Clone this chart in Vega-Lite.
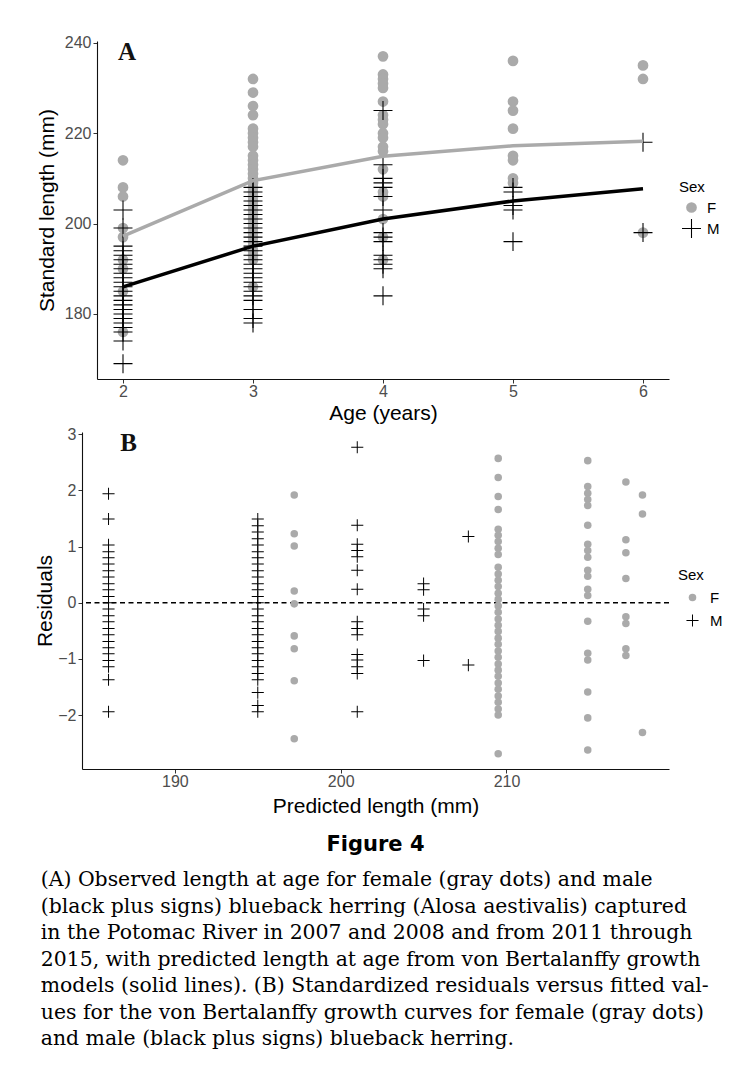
{
  "$schema": "https://vega.github.io/schema/vega-lite/v6.json",
  "background": "white",
  "padding": {"left": 34, "top": 34, "right": 0, "bottom": 0},
  "config": {
    "font": "Liberation Sans",
    "view": {"stroke": null},
    "axis": {
      "grid": false,
      "domainColor": "#111111",
      "domainWidth": 1.1,
      "tickColor": "#333333",
      "tickSize": 4,
      "tickWidth": 1,
      "labelColor": "#4d4d4d",
      "labelFontSize": 16,
      "labelFont": "Liberation Sans",
      "titleFont": "Liberation Sans",
      "titleFontSize": 21,
      "titleFontWeight": "normal",
      "titleColor": "#000000"
    },
    "legend": {
      "titleFont": "Liberation Sans",
      "labelFont": "Liberation Sans",
      "titleFontSize": 15,
      "titleFontWeight": "normal",
      "titleColor": "#000000",
      "labelFontSize": 15,
      "labelColor": "#000000"
    }
  },
  "datasets": {
    "fish": [
      {"s":"F","a":2,"l":214,"p":197.2,"r":1.92},{"s":"F","a":2,"l":208,"p":197.2,"r":1.23},{"s":"F","a":2,"l":206,"p":197.2,"r":1.01},{"s":"F","a":2,"l":199,"p":197.2,"r":0.21},{"s":"F","a":2,"l":197,"p":197.2,"r":-0.02},{"s":"F","a":2,"l":192,"p":197.2,"r":-0.59},{"s":"F","a":2,"l":190,"p":197.2,"r":-0.82},{"s":"F","a":2,"l":185,"p":197.2,"r":-1.39},{"s":"F","a":2,"l":176,"p":197.2,"r":-2.42},
      {"s":"F","a":3,"l":232,"p":209.5,"r":2.57},{"s":"F","a":3,"l":229,"p":209.5,"r":2.23},{"s":"F","a":3,"l":226,"p":209.5,"r":1.89},{"s":"F","a":3,"l":224,"p":209.5,"r":1.66},{"s":"F","a":3,"l":221,"p":209.5,"r":1.31},{"s":"F","a":3,"l":220,"p":209.5,"r":1.2},{"s":"F","a":3,"l":219,"p":209.5,"r":1.09},{"s":"F","a":3,"l":218,"p":209.5,"r":0.97},{"s":"F","a":3,"l":217,"p":209.5,"r":0.86},{"s":"F","a":3,"l":215,"p":209.5,"r":0.63},{"s":"F","a":3,"l":214,"p":209.5,"r":0.51},{"s":"F","a":3,"l":213,"p":209.5,"r":0.4},{"s":"F","a":3,"l":212,"p":209.5,"r":0.29},{"s":"F","a":3,"l":211,"p":209.5,"r":0.17},{"s":"F","a":3,"l":210,"p":209.5,"r":0.06},{"s":"F","a":3,"l":209,"p":209.5,"r":-0.06},{"s":"F","a":3,"l":208,"p":209.5,"r":-0.17},{"s":"F","a":3,"l":207,"p":209.5,"r":-0.29},{"s":"F","a":3,"l":206,"p":209.5,"r":-0.4},{"s":"F","a":3,"l":205,"p":209.5,"r":-0.51},{"s":"F","a":3,"l":204,"p":209.5,"r":-0.63},{"s":"F","a":3,"l":203,"p":209.5,"r":-0.74},{"s":"F","a":3,"l":202,"p":209.5,"r":-0.86},{"s":"F","a":3,"l":201,"p":209.5,"r":-0.97},{"s":"F","a":3,"l":200,"p":209.5,"r":-1.09},{"s":"F","a":3,"l":199,"p":209.5,"r":-1.2},{"s":"F","a":3,"l":198,"p":209.5,"r":-1.31},{"s":"F","a":3,"l":197,"p":209.5,"r":-1.43},{"s":"F","a":3,"l":196,"p":209.5,"r":-1.54},{"s":"F","a":3,"l":195,"p":209.5,"r":-1.66},{"s":"F","a":3,"l":194,"p":209.5,"r":-1.77},{"s":"F","a":3,"l":193,"p":209.5,"r":-1.89},{"s":"F","a":3,"l":192,"p":209.5,"r":-2.0},{"s":"F","a":3,"l":186,"p":209.5,"r":-2.69},
      {"s":"F","a":4,"l":237,"p":214.9,"r":2.53},{"s":"F","a":4,"l":233,"p":214.9,"r":2.07},{"s":"F","a":4,"l":232,"p":214.9,"r":1.95},{"s":"F","a":4,"l":231,"p":214.9,"r":1.84},{"s":"F","a":4,"l":230,"p":214.9,"r":1.73},{"s":"F","a":4,"l":227,"p":214.9,"r":1.38},{"s":"F","a":4,"l":224,"p":214.9,"r":1.04},{"s":"F","a":4,"l":223,"p":214.9,"r":0.93},{"s":"F","a":4,"l":222,"p":214.9,"r":0.81},{"s":"F","a":4,"l":220,"p":214.9,"r":0.58},{"s":"F","a":4,"l":219,"p":214.9,"r":0.47},{"s":"F","a":4,"l":217,"p":214.9,"r":0.24},{"s":"F","a":4,"l":216,"p":214.9,"r":0.13},{"s":"F","a":4,"l":212,"p":214.9,"r":-0.33},{"s":"F","a":4,"l":207,"p":214.9,"r":-0.9},{"s":"F","a":4,"l":206,"p":214.9,"r":-1.02},{"s":"F","a":4,"l":201,"p":214.9,"r":-1.59},{"s":"F","a":4,"l":197,"p":214.9,"r":-2.05},{"s":"F","a":4,"l":192,"p":214.9,"r":-2.62},
      {"s":"F","a":5,"l":236,"p":217.2,"r":2.15},{"s":"F","a":5,"l":227,"p":217.2,"r":1.12},{"s":"F","a":5,"l":225,"p":217.2,"r":0.89},{"s":"F","a":5,"l":221,"p":217.2,"r":0.43},{"s":"F","a":5,"l":215,"p":217.2,"r":-0.25},{"s":"F","a":5,"l":214,"p":217.2,"r":-0.37},{"s":"F","a":5,"l":210,"p":217.2,"r":-0.82},{"s":"F","a":5,"l":209,"p":217.2,"r":-0.94},
      {"s":"F","a":6,"l":235,"p":218.2,"r":1.92},{"s":"F","a":6,"l":232,"p":218.2,"r":1.58},{"s":"F","a":6,"l":198,"p":218.2,"r":-2.31},
      {"s":"M","a":2,"l":203,"p":186.0,"r":1.94},{"s":"M","a":2,"l":199,"p":186.0,"r":1.49},{"s":"M","a":2,"l":195,"p":186.0,"r":1.03},{"s":"M","a":2,"l":194,"p":186.0,"r":0.91},{"s":"M","a":2,"l":193,"p":186.0,"r":0.8},{"s":"M","a":2,"l":192,"p":186.0,"r":0.69},{"s":"M","a":2,"l":191,"p":186.0,"r":0.57},{"s":"M","a":2,"l":190,"p":186.0,"r":0.46},{"s":"M","a":2,"l":189,"p":186.0,"r":0.34},{"s":"M","a":2,"l":188,"p":186.0,"r":0.23},{"s":"M","a":2,"l":187,"p":186.0,"r":0.11},{"s":"M","a":2,"l":186,"p":186.0,"r":0.0},{"s":"M","a":2,"l":185,"p":186.0,"r":-0.11},{"s":"M","a":2,"l":184,"p":186.0,"r":-0.23},{"s":"M","a":2,"l":183,"p":186.0,"r":-0.34},{"s":"M","a":2,"l":182,"p":186.0,"r":-0.46},{"s":"M","a":2,"l":181,"p":186.0,"r":-0.57},{"s":"M","a":2,"l":180,"p":186.0,"r":-0.69},{"s":"M","a":2,"l":179,"p":186.0,"r":-0.8},{"s":"M","a":2,"l":178,"p":186.0,"r":-0.91},{"s":"M","a":2,"l":177,"p":186.0,"r":-1.03},{"s":"M","a":2,"l":176,"p":186.0,"r":-1.14},{"s":"M","a":2,"l":174,"p":186.0,"r":-1.37},{"s":"M","a":2,"l":169,"p":186.0,"r":-1.94},
      {"s":"M","a":3,"l":208,"p":195.0,"r":1.49},{"s":"M","a":3,"l":207,"p":195.0,"r":1.37},{"s":"M","a":3,"l":206,"p":195.0,"r":1.26},{"s":"M","a":3,"l":205,"p":195.0,"r":1.14},{"s":"M","a":3,"l":204,"p":195.0,"r":1.03},{"s":"M","a":3,"l":203,"p":195.0,"r":0.91},{"s":"M","a":3,"l":202,"p":195.0,"r":0.8},{"s":"M","a":3,"l":201,"p":195.0,"r":0.69},{"s":"M","a":3,"l":200,"p":195.0,"r":0.57},{"s":"M","a":3,"l":199,"p":195.0,"r":0.46},{"s":"M","a":3,"l":198,"p":195.0,"r":0.34},{"s":"M","a":3,"l":197,"p":195.0,"r":0.23},{"s":"M","a":3,"l":196,"p":195.0,"r":0.11},{"s":"M","a":3,"l":195,"p":195.0,"r":0.0},{"s":"M","a":3,"l":194,"p":195.0,"r":-0.11},{"s":"M","a":3,"l":193,"p":195.0,"r":-0.23},{"s":"M","a":3,"l":192,"p":195.0,"r":-0.34},{"s":"M","a":3,"l":191,"p":195.0,"r":-0.46},{"s":"M","a":3,"l":190,"p":195.0,"r":-0.57},{"s":"M","a":3,"l":189,"p":195.0,"r":-0.69},{"s":"M","a":3,"l":188,"p":195.0,"r":-0.8},{"s":"M","a":3,"l":187,"p":195.0,"r":-0.91},{"s":"M","a":3,"l":186,"p":195.0,"r":-1.03},{"s":"M","a":3,"l":185,"p":195.0,"r":-1.14},{"s":"M","a":3,"l":184,"p":195.0,"r":-1.26},{"s":"M","a":3,"l":183,"p":195.0,"r":-1.37},{"s":"M","a":3,"l":181,"p":195.0,"r":-1.6},{"s":"M","a":3,"l":179,"p":195.0,"r":-1.83},{"s":"M","a":3,"l":178,"p":195.0,"r":-1.94},
      {"s":"M","a":4,"l":225,"p":201.0,"r":2.77},{"s":"M","a":4,"l":213,"p":201.0,"r":1.38},{"s":"M","a":4,"l":210,"p":201.0,"r":1.04},{"s":"M","a":4,"l":209,"p":201.0,"r":0.93},{"s":"M","a":4,"l":208,"p":201.0,"r":0.82},{"s":"M","a":4,"l":206,"p":201.0,"r":0.58},{"s":"M","a":4,"l":203,"p":201.0,"r":0.24},{"s":"M","a":4,"l":198,"p":201.0,"r":-0.34},{"s":"M","a":4,"l":197,"p":201.0,"r":-0.46},{"s":"M","a":4,"l":196,"p":201.0,"r":-0.57},{"s":"M","a":4,"l":193,"p":201.0,"r":-0.92},{"s":"M","a":4,"l":192,"p":201.0,"r":-1.02},{"s":"M","a":4,"l":191,"p":201.0,"r":-1.14},{"s":"M","a":4,"l":190,"p":201.0,"r":-1.26},{"s":"M","a":4,"l":184,"p":201.0,"r":-1.94},
      {"s":"M","a":5,"l":208,"p":205.0,"r":0.34},{"s":"M","a":5,"l":207,"p":205.0,"r":0.23},{"s":"M","a":5,"l":204,"p":205.0,"r":-0.11},{"s":"M","a":5,"l":203,"p":205.0,"r":-0.23},{"s":"M","a":5,"l":196,"p":205.0,"r":-1.03},
      {"s":"M","a":6,"l":218,"p":207.7,"r":1.18},{"s":"M","a":6,"l":198,"p":207.7,"r":-1.11}
    ],
    "fit": [
      {"s":"F","a":2,"l":197.2},{"s":"F","a":3,"l":209.5},{"s":"F","a":4,"l":214.9},{"s":"F","a":5,"l":217.2},{"s":"F","a":6,"l":218.2},
      {"s":"M","a":2,"l":186.0},{"s":"M","a":3,"l":195.0},{"s":"M","a":4,"l":201.0},{"s":"M","a":5,"l":205.0},{"s":"M","a":6,"l":207.7}
    ]
  },
  "title": {
    "text": [
      "(A) Observed length at age for female (gray dots) and male",
      "(black plus signs) blueback herring (Alosa aestivalis) captured",
      "in the Potomac River in 2007 and 2008 and from 2011 through",
      "2015, with predicted length at age from von Bertalanffy growth",
      "models (solid lines). (B) Standardized residuals versus fitted val-",
      "ues for the von Bertalanffy growth curves for female (gray dots)",
      "and male (black plus signs) blueback herring."
    ],
    "orient": "bottom",
    "anchor": "start",
    "frame": "bounds",
    "font": "DejaVu Serif",
    "fontSize": 20.4,
    "fontWeight": "normal",
    "color": "#000000",
    "lineHeight": 26.5,
    "offset": 15,
    "dx": 6
  },
  "spacing": 3,
  "resolve": {
    "scale": {"x": "independent", "y": "independent", "color": "independent", "shape": "independent", "stroke": "independent"},
    "legend": {"color": "independent", "shape": "independent"}
  },
  "vconcat": [
    {
      "width": 587,
      "height": 338,
      "layer": [
        {
          "data": {"name": "fish"},
          "mark": {"type": "point", "filled": true, "opacity": 1, "size": 115},
          "encoding": {
            "x": {"field": "a", "type": "quantitative", "scale": {"domain": [1.8, 6.2], "range": [15, 587], "nice": false, "zero": false},
                  "axis": {"values": [2, 3, 4, 5, 6], "title": "Age (years)", "titlePadding": 3, "labelPadding": 0, "format": "d"}},
            "y": {"field": "l", "type": "quantitative", "scale": {"domain": [165.6, 240.4], "nice": false, "zero": false},
                  "axis": {"values": [180, 200, 220, 240], "title": "Standard length (mm)", "titlePadding": 7, "labelPadding": 2, "offset": -15}},
            "color": {"field": "s", "type": "nominal", "scale": {"domain": ["F", "M"], "range": ["#aaaaaa", "#000000"]},
                      "legend": {"title": "Sex", "orient": "none", "legendX": 597, "legendY": 139, "symbolSize": 115, "symbolOffset": 5, "labelOffset": 8, "rowPadding": 3, "titlePadding": 5, "symbolStrokeWidth": 0,
                                 "encode": {"symbols": {"update": {"shape": {"signal": "datum.value === 'M' ? 'M-1.77,-0.33H1.77V0.33H-1.77ZM-0.1,-1.9H0.1V1.9H-0.1Z' : 'circle'"}}}}}},
            "shape": {"field": "s", "type": "nominal", "scale": {"domain": ["F", "M"], "range": ["circle", "M-1.77,-0.1H-0.1V-1.77H0.1V-0.1H1.77V0.1H0.1V1.77H-0.1V0.1H-1.77Z"]},
                      "legend": {"title": "Sex", "orient": "none", "legendX": 597, "legendY": 139, "symbolSize": 115, "symbolOffset": 5, "labelOffset": 8, "rowPadding": 3, "titlePadding": 5, "symbolStrokeWidth": 0,
                                 "encode": {"symbols": {"update": {"shape": {"signal": "datum.value === 'M' ? 'M-1.77,-0.33H1.77V0.33H-1.77ZM-0.1,-1.9H0.1V1.9H-0.1Z' : 'circle'"}}}}}}
          }
        },
        {
          "data": {"name": "fit"},
          "mark": {"type": "line", "strokeWidth": 3.5},
          "encoding": {
            "x": {"field": "a", "type": "quantitative"},
            "y": {"field": "l", "type": "quantitative"},
            "stroke": {"field": "s", "type": "nominal", "scale": {"domain": ["F", "M"], "range": ["#aaaaaa", "#000000"]}, "legend": null}
          }
        },
        {
          "data": {"values": [{"lab": "A"}]},
          "mark": {"type": "text", "font": "Liberation Serif", "fontWeight": "bold", "fontSize": 25, "align": "left", "baseline": "alphabetic", "color": "#111111"},
          "encoding": {
            "x": {"datum": 1.962},
            "y": {"datum": 236.2},
            "text": {"field": "lab"}
          }
        }
      ]
    },
    {
      "width": 587,
      "height": 337,
      "title": {"text": "Figure 4", "orient": "bottom", "anchor": "middle", "frame": "group", "font": "DejaVu Sans", "fontWeight": "bold", "fontSize": 21, "color": "#000000", "offset": 18},
      "layer": [
        {
          "data": {"values": [{"z": 0}]},
          "mark": {"type": "rule", "strokeDash": [5, 3.5], "strokeWidth": 1.3, "color": "#000000"},
          "encoding": {
            "y": {"field": "z", "type": "quantitative"}
          }
        },
        {
          "data": {"name": "fish"},
          "mark": {"type": "point", "filled": true, "opacity": 1, "size": 57},
          "encoding": {
            "x": {"field": "p", "type": "quantitative", "scale": {"domain": [184.4, 219.8], "nice": false, "zero": false},
                  "axis": {"values": [190, 200, 210], "title": "Predicted length (mm)", "titlePadding": 6, "labelPadding": 0, "format": "d"}},
            "y": {"field": "r", "type": "quantitative", "scale": {"domain": [-2.96, 3.04], "nice": false, "zero": false},
                  "axis": {"values": [-2, -1, 0, 1, 2, 3], "title": "Residuals", "titlePadding": 2, "labelPadding": 2, "format": "d"}},
            "color": {"field": "s", "type": "nominal", "scale": {"domain": ["F", "M"], "range": ["#aaaaaa", "#000000"]},
                      "legend": {"title": "Sex", "orient": "none", "legendX": 596, "legendY": 136, "symbolSize": 57, "symbolOffset": 7, "labelOffset": 10, "rowPadding": 7, "titlePadding": 7, "symbolStrokeWidth": 0}},
            "shape": {"field": "s", "type": "nominal", "scale": {"domain": ["F", "M"], "range": ["circle", "M-1.6,-0.13H-0.13V-1.6H0.13V-0.13H1.6V0.13H0.13V1.6H-0.13V0.13H-1.6Z"]},
                      "legend": {"title": "Sex", "orient": "none", "legendX": 596, "legendY": 136, "symbolSize": 57, "symbolOffset": 7, "labelOffset": 10, "rowPadding": 7, "titlePadding": 7, "symbolStrokeWidth": 0}}
          }
        },
        {
          "data": {"values": [{"lab": "B"}]},
          "mark": {"type": "text", "font": "Liberation Serif", "fontWeight": "bold", "fontSize": 25, "align": "left", "baseline": "alphabetic", "color": "#111111"},
          "encoding": {
            "x": {"datum": 186.7},
            "y": {"datum": 2.7},
            "text": {"field": "lab"}
          }
        }
      ]
    }
  ]
}
